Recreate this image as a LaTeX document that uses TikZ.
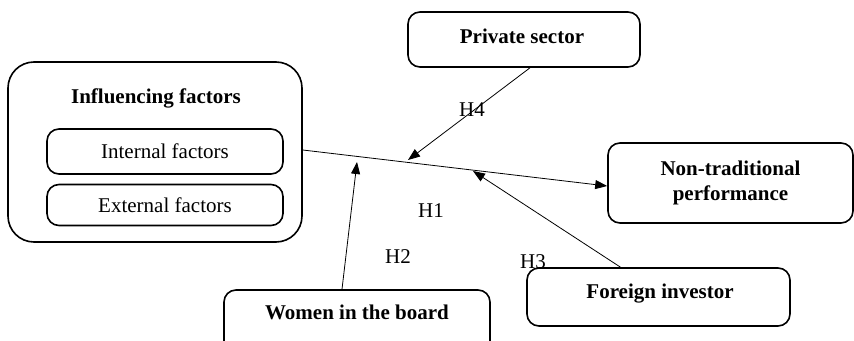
\documentclass[tikz,border=0pt]{standalone}
\usepackage{fontspec}
\setmainfont{Liberation Serif}
\usetikzlibrary{arrows.meta,calc}
\begin{document}
\begin{tikzpicture}[x=1pt,y=-1pt,
  box/.style={draw,line width=1.6pt,rounded corners=12pt,inner sep=0pt},
  bigbox/.style={draw,line width=1.6pt,rounded corners=26pt,inner sep=0pt},
  lbl/.style={font=\fontsize{21}{25}\selectfont\bfseries,inner sep=0pt,align=center},
  rlbl/.style={font=\fontsize{21}{25}\selectfont,inner sep=0pt},
  arr/.style={line width=0.8pt,-{Triangle[length=12pt,width=9pt]}}]
\useasboundingbox (0,0) rectangle (854,340);
\clip (0,0) rectangle (854,340);
% boxes
\node[bigbox,minimum width=294pt,minimum height=180pt] (outer) at (155,152) {};
\node[lbl] (outertext) at (156,98) {Influencing factors};
\node[box,minimum width=236pt,minimum height=45pt,font=\fontsize{21}{25}\selectfont] (internal) at (165,151.5) {Internal factors};
\node[box,minimum width=236pt,minimum height=41pt,font=\fontsize{21}{25}\selectfont] (external) at (165,205) {External factors};
\node[box,minimum width=232pt,minimum height=55pt] (private) at (524,39.5) {};
\node[lbl] (privatetext) at (522,36) {Private sector};
\node[box,minimum width=245pt,minimum height=80pt,lbl] (nontrad) at (730.5,183) {Non-traditional\\performance};
\node[box,minimum width=266pt,minimum height=74pt] (women) at (357,327) {};
\node[lbl] (womentext) at (357,312) {Women in the board};
\node[box,minimum width=263pt,minimum height=58pt] (foreign) at (658.5,297) {};
\node[lbl] (foreigntext) at (660,294) {Foreign investor};
% connectors
\coordinate (t4) at (408,160);
\coordinate (t2) at (357,162);
\coordinate (t3) at (473,171);
\draw[arr] ([yshift=2pt]outer.east) -- ([yshift=-3pt]nontrad.west);
\draw[arr] ([xshift=6pt]private.south) -- (t4);
\draw[arr] ([xshift=-15pt]women.north) -- (t2);
\draw[arr] ([xshift=-38pt]foreign.north) -- (t3);
% hypothesis labels
\node[rlbl] (h4) at (472,110) {H4};
\node[rlbl] (h1) at (431,211) {H1};
\node[rlbl] (h2) at (398,257) {H2};
\node[rlbl] (h3) at (533,262) {H3};
\end{tikzpicture}
\end{document}
